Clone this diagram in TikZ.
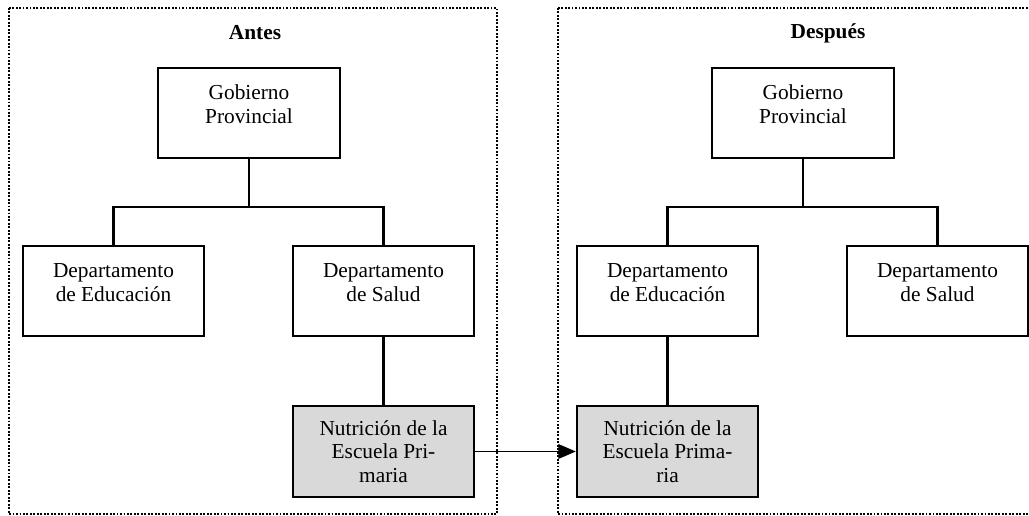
\documentclass[tikz,border=0pt]{standalone}
\usepackage{fontspec}
\setmainfont{Liberation Serif}
\usetikzlibrary{arrows.meta}
\usetikzlibrary{calc}
\tikzstyle{unit}=[rectangle,draw=black,line width=1.6pt,fill=white,minimum width=136pt,minimum height=68pt,inner sep=2pt,align=center,font=\fontsize{16}{17.8}\selectfont]
\tikzstyle{moved}=[unit,fill=black!15]
\tikzstyle{link}=[line width=1.6pt]
\tikzstyle{frame}=[line width=1.4pt,dash pattern=on 1.4pt off 1.2pt]
\tikzstyle{heading}=[font=\fontsize{16}{17.8}\selectfont\bfseries]
\newcommand{\padbelow}{\rule[-13pt]{0pt}{13pt}}

\begin{document}
\begin{tikzpicture}[x=0.75pt,y=-0.75pt]
\useasboundingbox (0,0) rectangle (1029,516);
\clip (0,0) rectangle (1029,516);

%Frames
\draw[frame] (9,8) rectangle (497,514);
\draw[frame] (558,8) rectangle (1098,514);
\node[heading] (antes) at (255,33) {Antes};
\node[heading] (despues) at (828,33) {Después};

%Antes
    \def\dx{0};

    \foreach \pos/\name/\label in {{(249+\dx,113)/gobA/{Gobierno\\Provincial\padbelow}}, {(113.5+\dx,291)/eduA/{Departamento\\de Educación\padbelow}}, {(383.5+\dx,291)/salA/{Departamento\\de Salud\padbelow}}}
        \node[unit] (\name) at \pos {\label};
    \node[moved] (nutA) at (383.5+\dx,451.5) {Nutrición de la\\Escuela Pri-\\maria};

  \foreach \dest in {eduA, salA}
          \draw[link] (gobA.south) -- ++(0,48) -| (\dest.north);
  \draw[link] (salA) -- (nutA);

%Despues
    \def\dx{554};

    \foreach \pos/\name/\label in {{(249+\dx,113)/gobD/{Gobierno\\Provincial\padbelow}}, {(113.5+\dx,291)/eduD/{Departamento\\de Educación\padbelow}}, {(383.5+\dx,291)/salD/{Departamento\\de Salud\padbelow}}}
        \node[unit] (\name) at \pos {\label};
    \node[moved] (nutD) at (113.5+\dx,451.5) {Nutrición de la\\Escuela Prima-\\ria};

  \foreach \dest in {eduD, salD}
          \draw[link] (gobD.south) -- ++(0,48) -| (\dest.north);
  \draw[link] (eduD) -- (nutD);

%Traslado
\draw[-{Triangle[length=13pt,width=11pt]}, line width=0.9pt] (nutA) -- (nutD);

   \end{tikzpicture}
\end{document}
